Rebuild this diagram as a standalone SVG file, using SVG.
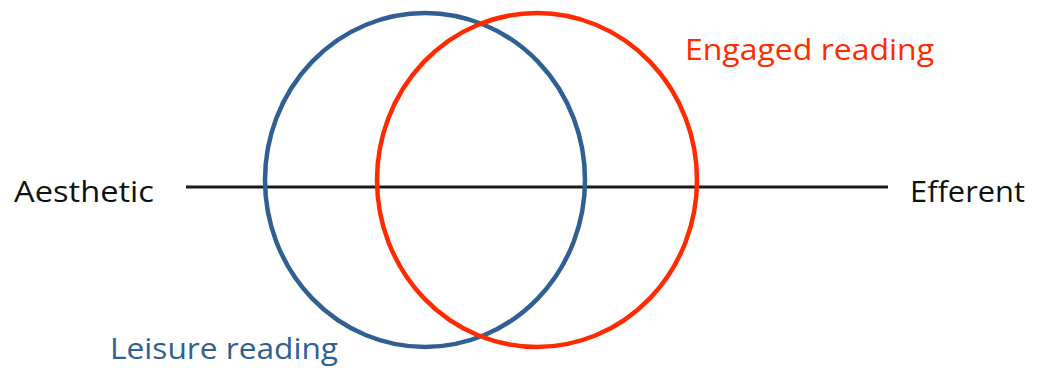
<svg xmlns="http://www.w3.org/2000/svg" width="1038" height="368" viewBox="0 0 1038 368">
<style>
text{font-family:"Open Sans","Liberation Sans",sans-serif;font-size:29.5px}
.ring{fill:none;stroke-width:4.5}
</style>
<rect width="1038" height="368" fill="#fff"/>
<g id="connectors">
<line x1="186" y1="187" x2="888" y2="187" stroke="#1a1a1a" stroke-width="3"/>
</g>
<g id="leisure">
<ellipse class="ring" cx="425" cy="180" rx="160" ry="167" stroke="#2f5f93"/>
<text x="110" y="359" fill="#2f5f93" textLength="228" lengthAdjust="spacingAndGlyphs">Leisure reading</text>
</g>
<g id="engaged">
<ellipse class="ring" cx="537" cy="180" rx="160" ry="167" stroke="#ff2a00"/>
<text x="685" y="60" fill="#ff2a00" textLength="249" lengthAdjust="spacingAndGlyphs">Engaged reading</text>
</g>
<g id="aesthetic"><text x="14" y="202" fill="#111" textLength="140" lengthAdjust="spacingAndGlyphs">Aesthetic</text></g>
<g id="efferent"><text x="910" y="202" fill="#111" textLength="115" lengthAdjust="spacingAndGlyphs">Efferent</text></g>
</svg>
